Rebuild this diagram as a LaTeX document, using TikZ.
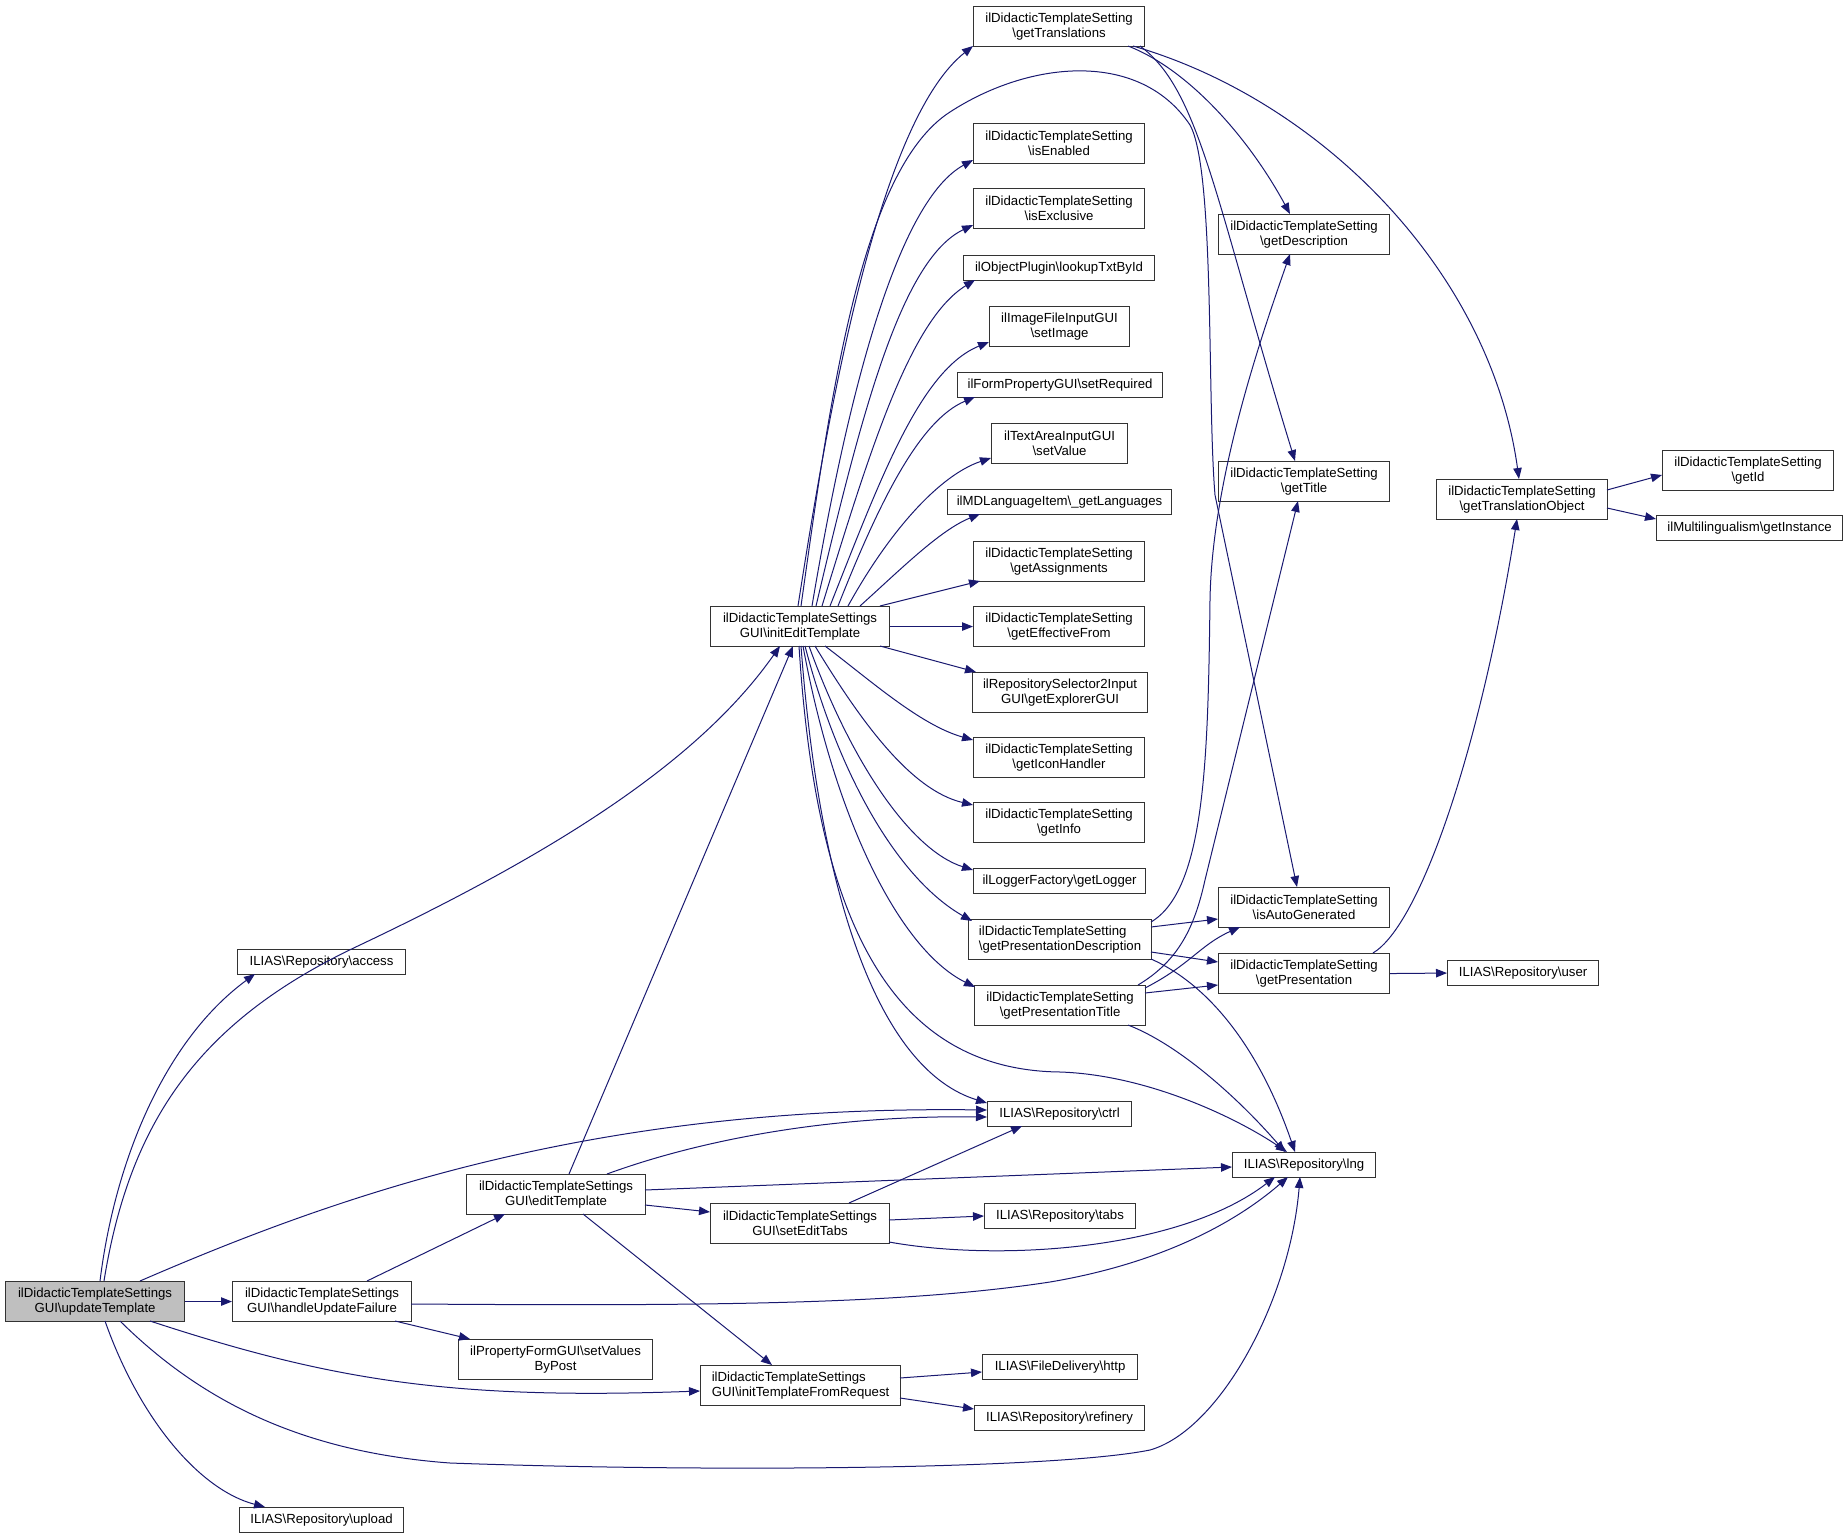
\documentclass[tikz,border=0pt]{standalone}
\usepackage{fontspec}
\setmainfont{Liberation Sans}
\usetikzlibrary{arrows.meta,calc}
\definecolor{edgec}{RGB}{25,25,112}
\definecolor{rootfill}{RGB}{191,191,191}
\newcommand\bsl{\textbackslash{}}
\begin{document}
\begin{tikzpicture}[x=1pt,y=-1pt,
  fn/.style={draw=black!80, line width=1.1pt, anchor=north west, inner sep=0pt, align=center,
    font=\fontsize{13.2}{15}\selectfont, text=black},
  bA/.style={fn, minimum height=40},
  bB/.style={fn, minimum height=25},
  e/.style={draw=edgec, line width=1pt, -{Triangle[length=11pt,width=8.5pt]}}]
\useasboundingbox (0,0) rectangle (1848,1538);
% nodes
\node[bA, fill=rootfill, minimum width=179] (root) at (5,1281) {ilDidacticTemplateSettings\\GUI\bsl updateTemplate};
\node[bA, minimum width=179] (handle) at (232,1281) {ilDidacticTemplateSettings\\GUI\bsl handleUpdateFailure};
\node[bB, minimum width=164] (upload) at (239,1507) {ILIAS\bsl Repository\bsl upload};
\node[bB, minimum width=168] (access) at (237,949) {ILIAS\bsl Repository\bsl access};
\node[bA, minimum width=179] (editT) at (466,1174) {ilDidacticTemplateSettings\\GUI\bsl editTemplate};
\node[bA, minimum width=194] (setVBP) at (458,1339) {ilPropertyFormGUI\bsl setValues\\ByPost};
\node[bA, minimum width=179] (initEdit) at (710,606) {ilDidacticTemplateSettings\\GUI\bsl initEditTemplate};
\node[bA, minimum width=179] (setEditTabs) at (710,1203) {ilDidacticTemplateSettings\\GUI\bsl setEditTabs};
\node[bA, minimum width=200, align=left] (initTFR) at (700,1365) {ilDidacticTemplateSettings\\GUI\bsl initTemplateFromRequest};
\node[bA, minimum width=171] (getTranslations) at (973,6) {ilDidacticTemplateSetting\\\bsl getTranslations};
\node[bA, minimum width=171] (isEnabled) at (973,123) {ilDidacticTemplateSetting\\\bsl isEnabled};
\node[bA, minimum width=171] (isExclusive) at (973,188) {ilDidacticTemplateSetting\\\bsl isExclusive};
\node[bB, minimum width=191] (lookupTxtById) at (963,255) {ilObjectPlugin\bsl lookupTxtById};
\node[bA, minimum width=140] (setImage) at (989,306) {ilImageFileInputGUI\\\bsl setImage};
\node[bB, minimum width=205] (setRequired) at (957,372) {ilFormPropertyGUI\bsl setRequired};
\node[bA, minimum width=136] (setValue) at (991,423) {ilTextAreaInputGUI\\\bsl setValue};
\node[bB, minimum width=224] (getLanguages) at (947,489) {ilMDLanguageItem\bsl\_getLanguages};
\node[bA, minimum width=171] (getAssignments) at (973,541) {ilDidacticTemplateSetting\\\bsl getAssignments};
\node[bA, minimum width=171] (getEffectiveFrom) at (973,606) {ilDidacticTemplateSetting\\\bsl getEffectiveFrom};
\node[bA, minimum width=175] (getExplorerGUI) at (972,672) {ilRepositorySelector2Input\\GUI\bsl getExplorerGUI};
\node[bA, minimum width=171] (getIconHandler) at (973,737) {ilDidacticTemplateSetting\\\bsl getIconHandler};
\node[bA, minimum width=171] (getInfo) at (973,802) {ilDidacticTemplateSetting\\\bsl getInfo};
\node[bB, minimum width=172] (getLogger) at (973,868) {ilLoggerFactory\bsl getLogger};
\node[bA, minimum width=183, align=left] (getPresDesc) at (968,919) {ilDidacticTemplateSetting\\\bsl getPresentationDescription};
\node[bA, minimum width=171] (getPresTitle) at (974,985) {ilDidacticTemplateSetting\\\bsl getPresentationTitle};
\node[bB, minimum width=144] (ctrl) at (987,1101) {ILIAS\bsl Repository\bsl ctrl};
\node[bB, minimum width=151] (tabs) at (984,1203) {ILIAS\bsl Repository\bsl tabs};
\node[bB, minimum width=155] (http) at (982,1354) {ILIAS\bsl FileDelivery\bsl http};
\node[bB, minimum width=170] (refinery) at (974,1405) {ILIAS\bsl Repository\bsl refinery};
\node[bA, minimum width=171] (getDescription) at (1218,214) {ilDidacticTemplateSetting\\\bsl getDescription};
\node[bA, minimum width=171] (getTitle) at (1218,461) {ilDidacticTemplateSetting\\\bsl getTitle};
\node[bA, minimum width=171] (isAutoGenerated) at (1218,887) {ilDidacticTemplateSetting\\\bsl isAutoGenerated};
\node[bA, minimum width=171] (getPresentation) at (1218,953) {ilDidacticTemplateSetting\\\bsl getPresentation};
\node[bB, minimum width=143] (lng) at (1232,1152) {ILIAS\bsl Repository\bsl lng};
\node[bA, minimum width=171] (getTranslationObject) at (1436,479) {ilDidacticTemplateSetting\\\bsl getTranslationObject};
\node[bA, minimum width=171] (getId) at (1662,450) {ilDidacticTemplateSetting\\\bsl getId};
\node[bB, minimum width=186] (getInstance) at (1656,515) {ilMultilingualism\bsl getInstance};
\node[bB, minimum width=151] (user) at (1447,960) {ILIAS\bsl Repository\bsl user};
% edges from root
\draw[e] ($(root.north west)+(95,0)$) .. controls (115,1160) and (165,1040) .. ($(access.north west)+(18,25)$);
\draw[e] ($(root.north west)+(99,0)$) .. controls (130,1120) and (200,1020) .. (360,945) .. controls (560,850) and (700,760) .. ($(initEdit.north west)+(70,40)$);
\draw[e] ($(root.north west)+(135,0)$) .. controls (350,1190) and (600,1105) .. ($(ctrl.north west)+(0,9)$);
\draw[e] (root.east) -- (handle.west);
\draw[e] ($(root.north west)+(145,40)$) .. controls (330,1380) and (450,1400) .. ($(initTFR.north west)+(0,26)$);
\draw[e] ($(root.north west)+(115,40)$) .. controls (200,1400) and (300,1452) .. (450,1463) .. controls (700,1472) and (1050,1470) .. (1150,1450) .. controls (1220,1430) and (1290,1300) .. ($(lng.north west)+(68,25)$);
\draw[e] ($(root.north west)+(100,40)$) .. controls (140,1420) and (200,1490) .. ($(upload.north west)+(26,0)$);
% handle
\draw[e] ($(handle.north west)+(135,0)$) -- ($(editT.north west)+(39,40)$);
\draw[e] ($(handle.north west)+(179,23)$) .. controls (700,1306) and (900,1305) .. (1050,1282) .. controls (1180,1260) and (1250,1210) .. ($(lng.north west)+(56,25)$);
\draw[e] ($(handle.north west)+(163,40)$) -- ($(setVBP.north west)+(12,0)$);
% editTemplate
\draw[e] ($(editT.north west)+(103,0)$) -- ($(initEdit.north west)+(83,40)$);
\draw[e] ($(editT.north west)+(141,0)$) .. controls (700,1140) and (830,1115) .. ($(ctrl.north west)+(0,16)$);
\draw[e] ($(editT.north west)+(179,16)$) -- ($(lng.north west)+(0,15)$);
\draw[e] ($(editT.north west)+(179,31)$) -- ($(setEditTabs.north west)+(0,9)$);
\draw[e] ($(editT.north west)+(117,40)$) -- ($(initTFR.north west)+(72,0)$);
% setEditTabs
\draw[e] ($(setEditTabs.north west)+(139,0)$) -- ($(ctrl.north west)+(35,25)$);
\draw[e] ($(setEditTabs.north west)+(179,17)$) -- ($(tabs.north west)+(0,13)$);
\draw[e] ($(setEditTabs.north west)+(179,39)$) .. controls (1000,1262) and (1180,1250) .. ($(lng.north west)+(43,25)$);
% initTemplateFromRequest
\draw[e] ($(initTFR.north west)+(200,13)$) -- ($(http.north west)+(0,18)$);
\draw[e] ($(initTFR.north west)+(200,33)$) -- ($(refinery.north west)+(0,4)$);
% initEditTemplate
\draw[e] ($(initEdit.north west)+(88,0)$) .. controls (830,400) and (880,120) .. ($(getTranslations.north west)+(0,40)$);
\draw[e] ($(initEdit.north west)+(91,0)$) .. controls (830,400) and (860,170) .. (950,112) .. controls (1030,60) and (1140,50) .. (1190,125) .. controls (1215,170) and (1207,400) .. (1215,495) -- ($(isAutoGenerated.north west)+(79,0)$);
\draw[e] ($(initEdit.north west)+(102,0)$) .. controls (850,380) and (900,200) .. ($(isEnabled.north west)+(0,37)$);
\draw[e] ($(initEdit.north west)+(106,0)$) .. controls (860,420) and (900,260) .. ($(isExclusive.north west)+(0,37)$);
\draw[e] ($(initEdit.north west)+(112,0)$) .. controls (870,450) and (910,320) .. ($(lookupTxtById.north west)+(12,25)$);
\draw[e] ($(initEdit.north west)+(120,0)$) .. controls (880,480) and (920,370) .. ($(setImage.north west)+(0,36)$);
\draw[e] ($(initEdit.north west)+(128,0)$) .. controls (880,500) and (920,420) .. ($(setRequired.north west)+(18,25)$);
\draw[e] ($(initEdit.north west)+(138,0)$) .. controls (890,530) and (940,475) .. ($(setValue.north west)+(0,35)$);
\draw[e] ($(initEdit.north west)+(150,0)$) .. controls (900,570) and (940,530) .. ($(getLanguages.north west)+(33,25)$);
\draw[e] ($(initEdit.north west)+(170,0)$) -- ($(getAssignments.north west)+(7,40)$);
\draw[e] (initEdit.east) -- (getEffectiveFrom.west);
\draw[e] ($(initEdit.north west)+(170,40)$) -- ($(getExplorerGUI.north west)+(4,0)$);
\draw[e] ($(initEdit.north west)+(115,40)$) .. controls (870,680) and (920,725) .. ($(getIconHandler.north west)+(0,3)$);
\draw[e] ($(initEdit.north west)+(105,40)$) .. controls (860,720) and (910,790) .. ($(getInfo.north west)+(0,3)$);
\draw[e] ($(initEdit.north west)+(99,40)$) .. controls (850,760) and (910,850) .. ($(getLogger.north west)+(0,2)$);
\draw[e] ($(initEdit.north west)+(95,40)$) .. controls (840,780) and (900,880) .. ($(getPresDesc.north west)+(4,2)$);
\draw[e] ($(initEdit.north west)+(93,40)$) .. controls (835,820) and (900,950) .. ($(getPresTitle.north west)+(1,2)$);
\draw[e] ($(initEdit.north west)+(91,40)$) .. controls (820,900) and (880,1070) .. ($(ctrl.north west)+(0,2)$);
\draw[e] ($(initEdit.north west)+(89,40)$) .. controls (815,900) and (880,1070) .. (1060,1072) .. controls (1150,1075) and (1240,1120) .. ($(lng.north west)+(55,0)$);
% getTranslations
\draw[e] ($(getTranslations.north west)+(155,40)$) .. controls (1190,70) and (1250,140) .. ($(getDescription.north west)+(72,0)$);
\draw[e] ($(getTranslations.north west)+(167,40)$) .. controls (1200,90) and (1215,200) .. ($(getTitle.north west)+(77,0)$);
\draw[e] ($(getTranslations.north west)+(160,40)$) .. controls (1320,100) and (1490,270) .. ($(getTranslationObject.north west)+(83,0)$);
% getPresentationDescription
\draw[e] ($(getPresDesc.north west)+(183,3)$) .. controls (1205,890) and (1208,760) .. (1210,600) .. controls (1212,480) and (1260,340) .. ($(getDescription.north west)+(72,40)$);
\draw[e] ($(getPresDesc.north west)+(183,8)$) -- ($(isAutoGenerated.north west)+(0,32)$);
\draw[e] ($(getPresDesc.north west)+(183,33)$) -- ($(getPresentation.north west)+(0,9)$);
\draw[e] ($(getPresDesc.north west)+(183,40)$) .. controls (1210,985) and (1260,1050) .. ($(lng.north west)+(63,0)$);
% getPresentationTitle
\draw[e] ($(getPresTitle.north west)+(164,0)$) .. controls (1180,960) and (1195,925) .. (1205,880) -- ($(getTitle.north west)+(80,40)$);
\draw[e] ($(getPresTitle.north west)+(171,3)$) .. controls (1190,965) and (1200,945) .. ($(isAutoGenerated.north west)+(22,40)$);
\draw[e] ($(getPresTitle.north west)+(171,8)$) -- ($(getPresentation.north west)+(0,32)$);
\draw[e] ($(getPresTitle.north west)+(154,40)$) .. controls (1180,1045) and (1240,1100) .. ($(lng.north west)+(53,0)$);
% getPresentation
\draw[e] (getPresentation.east) -- (user.west);
\draw[e] ($(getPresentation.north west)+(155,0)$) .. controls (1420,925) and (1480,750) .. ($(getTranslationObject.north west)+(81,40)$);
% getTranslationObject
\draw[e] ($(getTranslationObject.north west)+(171,11)$) -- ($(getId.north west)+(0,25)$);
\draw[e] ($(getTranslationObject.north west)+(171,29)$) -- ($(getInstance.north west)+(0,4)$);
\end{tikzpicture}
\end{document}
